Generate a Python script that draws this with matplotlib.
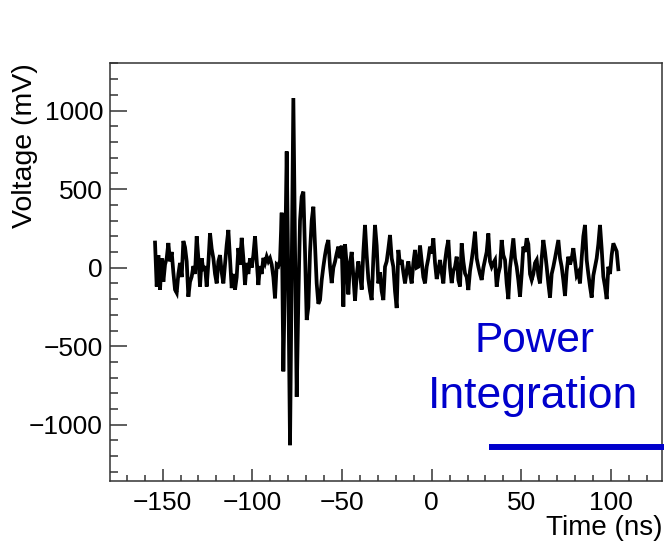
import numpy as np
import matplotlib
matplotlib.use("Agg")
import matplotlib.pyplot as plt
from matplotlib.lines import Line2D
from matplotlib.ticker import MultipleLocator

# waveform: first sample time and sample spacing (ns), then voltages (mV)
t_first_ns = -154.2
dt_ns = 0.929
voltage_mV = [
    160, -120, 80, -140, 60, -90, 20, 60, 157, 40,
    100, -30, -140, -160, -40, 30, -60, 170, 130, 40,
    -185, -90, -57, 10, -40, 200, 60, -120, 60, -20,
    10, -120, 30, 220, 120, 60, -40, -100, 40, 80,
    -30, -100, 20, 145, 240, 60, -130, -40, -140, -60,
    125, 20, 190, 60, -110, 30, -40, 60, 0, 80,
    200, 40, -110, 10, -40, 62, 30, 70, 40, 60,
    20, -60, -195, 20, 10, 45, 350, -660, 0, 740,
    -100, -1130, 0, 1080, 100, -822, -200, 300, 452, 484,
    100, -333, -250, 100, 300, 388, 150, -100, -230, -206,
    -80, 6, 80, 140, 176, 6, -98, 0, 38, 90,
    134, 60, 140, -248, 150, 20, -170, 30, 100, -60,
    -210, -50, 40, -40, -140, 100, 272, 80, -72, -150,
    -206, 60, 272, 140, -100, -30, -150, -206, 6, 40,
    120, 208, 60, 6, -150, -257, 113, 20, 49, -30,
    -100, -20, 40, -40, -100, 30, 113, 0, 6, 142,
    40, -60, -100, 6, 60, 134, 90, 187, 30, -72,
    -20, 49, -30, -100, 40, 120, 176, 0, -98, -20,
    6, 70, -78, -120, 155, 40, -36, -60, -142, -20,
    49, 130, 229, 60, 6, -40, -78, 0, 49, 100,
    218, 40, 6, 30, 49, -121, -40, 6, 176, 80,
    49, -100, -200, 0, 91, 187, 60, 6, -80, -185,
    -40, 134, 100, 187, 150, -40, -78, -40, 30, 49,
    -50, -100, 60, 176, 100, 6, -100, -190, -40, 6,
    60, 120, 176, 60, 6, -80, -180, -20, 70, 20,
    59, 124, 40, -50, -30, -100, 60, 200, 272, 50,
    -40, -120, -190, -50, 6, 60, 150, 272, 120, -57,
    -120, -200, 6, -40, 80, 155, 130, 104, -10,
]
time_ns = t_first_ns + dt_ns * np.arange(len(voltage_mV))

x_ticks = [-150, -100, -50, 0, 50, 100]
y_ticks = [-1000, -500, 0, 500, 1000]
annotation_lines = ["Power", "Integration"]

plt.rcParams["font.family"] = ["Liberation Sans", "DejaVu Sans"]
blue = "#0000cc"
frame_col = "#333333"

W, H = 664, 543
fig = plt.figure(figsize=(W / 100, H / 100), dpi=100)
ax = fig.add_axes([110 / W, 1 - 481 / H, (662 - 110) / W, (481 - 63) / H])

ax.plot(time_ns, voltage_mV, color="black", lw=2.7, solid_joinstyle="miter")

ax.set_xlim(-179.3, 128.4)
ax.set_ylim(-1358, 1303)
ax.set_xticks(x_ticks)
ax.set_yticks(y_ticks)
ax.xaxis.set_minor_locator(MultipleLocator(10))
ax.yaxis.set_minor_locator(MultipleLocator(100))

ax.tick_params(axis="both", which="both", direction="in", color=frame_col,
               width=1.1, top=False, right=False, labelsize=19)
ax.tick_params(axis="x", which="major", length=9, pad=7)
ax.tick_params(axis="x", which="minor", length=4.2)
ax.tick_params(axis="y", which="major", length=12, pad=5)
ax.tick_params(axis="y", which="minor", length=6)
for sp in ax.spines.values():
    sp.set_color(frame_col)
    sp.set_linewidth(1.1)

# ROOT-style axis titles pinned to the axis ends
fig.text(662 / W, 1 - 535 / H, "Time (ns)", ha="right", va="baseline", fontsize=20)
fig.text(25 / W, 1 - 63 / H, "Voltage (mV)", rotation=90, ha="center", va="top", fontsize=20.5)

# annotation in blue
fig.text(534 / W, 1 - 352 / H, annotation_lines[0], ha="center", va="baseline",
         fontsize=30.5, color=blue)
fig.text(533 / W, 1 - 408 / H, annotation_lines[1], ha="center", va="baseline",
         fontsize=32, color=blue)
fig.add_artist(Line2D([489 / W, 1.0], [1 - 447 / H, 1 - 447 / H], color=blue, lw=4.3,
                      solid_capstyle="butt"))

fig.savefig("out.png", dpi=100)
